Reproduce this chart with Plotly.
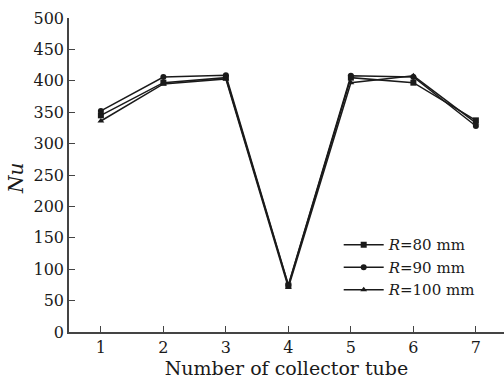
import plotly.graph_objects as go

tubes = [1, 2, 3, 4, 5, 6, 7]
nu_r80 = [345, 397, 405, 74, 405, 397, 337]
nu_r90 = [352, 406, 409, 75, 408, 406, 328]
nu_r100 = [336, 395, 403, 71, 397, 408, 333]

series = [
    ("<i>R</i>=80 mm", nu_r80, "square"),
    ("<i>R</i>=90 mm", nu_r90, "circle"),
    ("<i>R</i>=100 mm", nu_r100, "triangle-up"),
]

FONT = "DejaVu Serif, Liberation Serif, serif"
INK = "#1a1a1a"

fig = go.Figure()
for name, vals, sym in series:
    fig.add_trace(go.Scatter(
        x=tubes, y=vals, name=name, mode="lines+markers",
        line=dict(color=INK, width=1.5),
        marker=dict(symbol=sym, size=6, color=INK),
    ))

# Rotated y-axis title to the left of the tick labels
fig.add_annotation(
    text="<i>Nu</i>", xref="paper", yref="paper", x=-0.122, y=0.49,
    xanchor="center", yanchor="middle", textangle=-90, showarrow=False,
    font=dict(size=20, family=FONT, color=INK),
)

fig.update_layout(
    width=504, height=380,
    margin=dict(l=69, r=0, t=18, b=48),
    paper_bgcolor="white", plot_bgcolor="white",
    font=dict(family=FONT, size=16, color=INK),
    showlegend=True,
    legend=dict(
        x=0.62, y=0.33, xanchor="left", yanchor="top",
        bgcolor="rgba(0,0,0,0)", font=dict(size=15, family=FONT, color=INK),
        itemwidth=40, tracegroupgap=0,
    ),
    xaxis=dict(
        range=[0.49, 7.45], tickmode="array", tickvals=tubes,
        ticks="inside", ticklen=6, tickcolor="#444", tickwidth=1,
        showline=True, linecolor="#444", linewidth=1.5,
        showgrid=False, zeroline=False,
        title=dict(text="Number of collector tube", font=dict(size=19), standoff=0),
    ),
    yaxis=dict(
        range=[0, 500], tickmode="linear", tick0=0, dtick=50,
        ticks="inside", ticklen=6, tickcolor="#444", tickwidth=1,
        showline=True, linecolor="#444", linewidth=1.5,
        showgrid=False, zeroline=False,
    ),
)

fig.write_html("out.html")
